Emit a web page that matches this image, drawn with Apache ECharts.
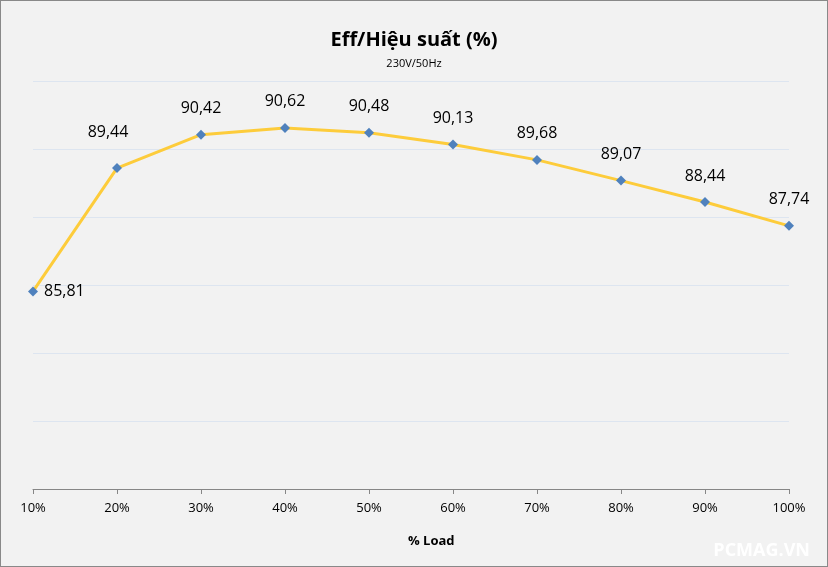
<!DOCTYPE html>
<html><head><meta charset="utf-8">
<script src="https://cdn.jsdelivr.net/npm/echarts@6/dist/echarts.min.js"></script>
<style>html,body{margin:0;padding:0;background:#f2f2f2}#c{width:828px;height:567px;box-sizing:border-box;border:1px solid #898989}</style>
</head><body><div id="c"></div>
<script>
const categories = ['10%','20%','30%','40%','50%','60%','70%','80%','90%','100%'];
const efficiency = [85.81, 89.44, 90.42, 90.62, 90.48, 90.13, 89.68, 89.07, 88.44, 87.74];
const titleText = 'Eff/Hiệu suất (%)';
const subtitleText = '230V/50Hz';
const xName = '% Load';

const chart = echarts.init(document.getElementById('c'));
const fontFam = '"Open Sans", "Noto Sans", sans-serif';
chart.setOption({
  backgroundColor: '#f2f2f2',
  animation: false,
  title: [
    { text: titleText, left: 'center', top: 24, textStyle: { fontFamily: fontFam, fontSize: 20, fontWeight: 'bold', color: '#000' } },
    { text: subtitleText, left: 'center', top: 52, textStyle: { fontFamily: fontFam, fontSize: 11, fontWeight: 'normal', color: '#000' } },
    { text: xName, left: 402, top: 529, textStyle: { fontFamily: fontFam, fontSize: 13, fontWeight: 'bold', color: '#000' } },
    { text: 'PCMAG.VN', right: 12, top: 536, textStyle: { fontFamily: fontFam, fontSize: 18, fontWeight: 'bold', color: '#ffffff' } }
  ],
  grid: { left: 32, right: 38, top: 80, bottom: 77 },
  xAxis: {
    type: 'category', data: categories, boundaryGap: false,
    axisLine: { lineStyle: { color: '#868686', width: 1 } },
    axisTick: { show: true, alignWithLabel: true, length: 5, lineStyle: { color: '#868686' } },
    axisLabel: { color: '#000', fontFamily: fontFam, fontSize: 13, margin: 13 },
    splitLine: { show: false }
  },
  yAxis: {
    type: 'value', min: 80, max: 92, interval: 2,
    axisLine: { show: false }, axisTick: { show: false }, axisLabel: { show: false },
    splitLine: { lineStyle: { color: '#dde5f0', width: 1 } }
  },
  series: [{
    type: 'line',
    symbol: 'diamond', symbolSize: 10,
    itemStyle: { color: '#4f81bd' },
    lineStyle: { color: '#fdcc3b', width: 3 },
    label: {
      show: true, position: 'top', distance: 13, color: '#000', fontFamily: fontFam, fontSize: 16,
      formatter: p => p.value.toFixed(2).replace('.', ',')
    },
    data: efficiency.map((v, i) => {
      if (i === 0) return { value: v, label: { position: 'right', distance: 6 } };
      if (i === 1) return { value: v, label: { offset: [-9, -10] } };
      return v;
    })
  }]
});
</script></body></html>
